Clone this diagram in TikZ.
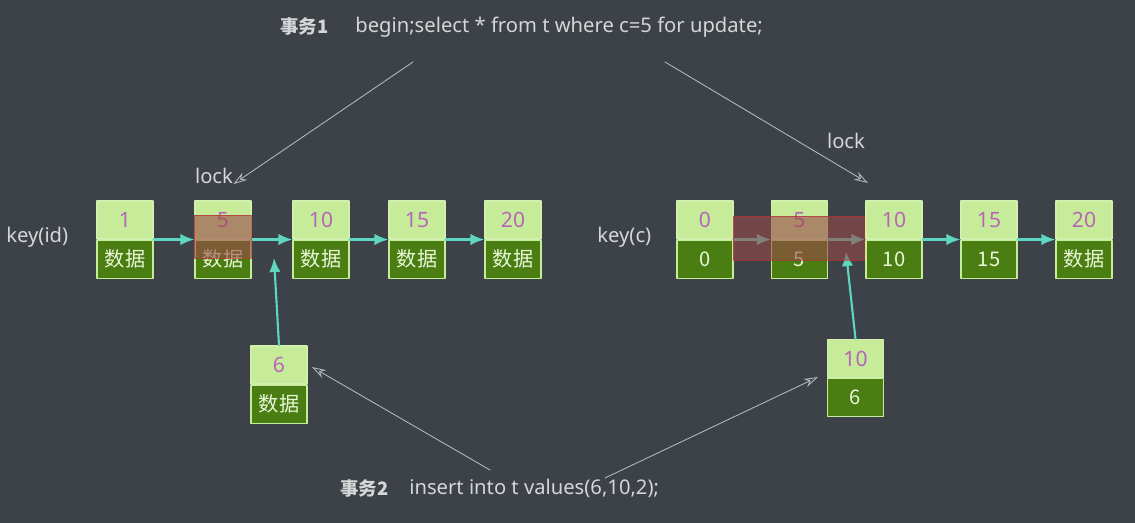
\documentclass[tikz,border=0pt]{standalone}
\usepackage{fontspec}
\setmainfont{Noto Sans}
\newfontfamily\cjk{Noto Sans CJK SC}
\usetikzlibrary{arrows.meta,positioning}

\definecolor{bg}{HTML}{3C4247}
\definecolor{keyfill}{HTML}{C6EC9A}
\definecolor{datafill}{HTML}{4A7D12}
\definecolor{numcol}{HTML}{B865B8}
\definecolor{linkcol}{HTML}{5ED6C2}
\definecolor{notecol}{HTML}{B4B8BA}
\definecolor{textcol}{HTML}{D4D6D7}
\definecolor{lockcol}{HTML}{9A4848}

\tikzset{
  keycell/.style={fill=keyfill,draw=keyfill!80!white,line width=0.6pt,
    minimum width=1.12cm,minimum height=0.76cm,inner sep=0pt,
    text=numcol,font=\fontsize{12}{14}\selectfont},
  datacell/.style={fill=datafill,draw=keyfill,line width=0.8pt,
    minimum width=1.12cm,minimum height=0.76cm,inner sep=0pt,
    text=keyfill!40!white,font=\fontsize{11.5}{14}\selectfont\cjk},
  link/.style={linkcol,line width=1.2pt,-{Latex[length=8pt,width=6.5pt]}},
  note/.style={notecol,line width=0.5pt,-{Stealth[open,length=8pt,width=5pt]}},
  label/.style={text=textcol,font=\fontsize{11.5}{13}\selectfont,inner sep=0pt},
  lockbox/.style={fill=lockcol,fill opacity=0.6,draw=lockcol!70!red,draw opacity=0.7,line width=0.5pt}
}

\begin{document}
\begin{tikzpicture}[x=0.02cm,y=-0.02cm,line cap=round,line join=round]

% ---- background ----
\fill[bg] (0,0) rectangle (1135,523);
\useasboundingbox (0,0) rectangle (1135,523);

% ---- texts ----
\node[label,anchor=west,font=\fontsize{10.5}{12}\selectfont\cjk\bfseries] (tx1) at (280,27) {事务1};
\node[label,anchor=west] (sql1) at (355,27) {begin;select * from t where c=5 for update;};
\node[label,anchor=west,font=\fontsize{10.5}{12}\selectfont\cjk\bfseries] (tx2) at (340,489) {事务2};
\node[label,anchor=west] (sql2) at (409,488) {insert into t values(6,10,2);};
\node[label,anchor=west] (keyid) at (6,237) {key(id)};
\node[label,anchor=west] (keyc) at (597,237) {key(c)};
\node[label] (lockL) at (214,176) {lock};
\node[label] (lockR) at (846,141) {lock};

% ---- index on id ----
\foreach \n/\x in {1/125,5/223,10/321,15/417,20/513}{
  \node[keycell] (id\n) at (\x,220) {\n};
  \node[datacell,below=0pt of id\n] (id\n d) {数据};
}
\foreach \a/\b in {1/5,5/10,10/15,15/20}
  \draw[link] (id\a.south east) -- (id\b.south west);

% ---- index on c ----
\foreach \n/\x/\v in {0/705/0,5/799.5/5,10/894/10,15/989/15,20/1084/数据}{
  \node[keycell] (c\n) at (\x,220) {\n};
  \node[datacell,below=0pt of c\n] (c\n d) {\v};
}
\foreach \a/\b in {0/5,5/10,10/15,15/20}
  \draw[link] (c\a.south east) -- (c\b.south west);

% ---- rows to insert ----
\node[keycell] (id6) at (279,365) {6};
\node[datacell,below=0pt of id6] (id6d) {数据};
\node[keycell] (c10n) at (855.5,358.5) {10};
\node[datacell,below=0pt of c10n] (c10nd) {6};

\coordinate (insL) at (274,258);
\coordinate (insR) at (846,252);
\draw[link] (id6.north) -- (insL);
\draw[link] (c10n.north) -- (insR);

% ---- locked ranges ----
\draw[lockbox] (194,215) rectangle (251,258);
\draw[lockbox] (733,216) rectangle (864,260);

% ---- pointers from the statements ----
\coordinate (p1) at (413,62);
\coordinate (p2) at (665,62);
\coordinate (q1) at (490,470);
\coordinate (q2) at (605,478);
\coordinate (lockRpt) at (868,183);
\coordinate (id6pt) at (312,367);
\coordinate (c10pt) at (818,377);
\draw[note] (p1) -- (lockL.south east);
\draw[note] (p2) -- (lockRpt);
\draw[note] (q1) -- (id6pt);
\draw[note] (q2) -- (c10pt);

\end{tikzpicture}
\end{document}
